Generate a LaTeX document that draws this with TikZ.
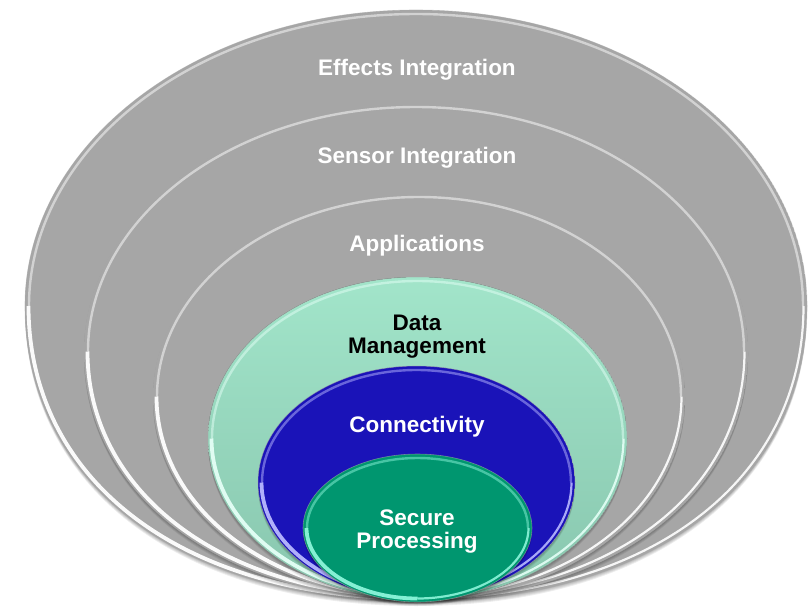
\documentclass[tikz,border=0pt]{standalone}
\usepackage{fontspec}
\setmainfont{Liberation Sans}

% Egg-like closed curve: centre (#1,#2), half-width #3, half-height #4,
% #5 = bezier factor of the two lower quarters (0.5523 = true ellipse)
\newcommand\blob[5]{%
  ({(#1)-(#3)},{#2})
  .. controls ({(#1)-(#3)},{(#2)-0.5523*(#4)}) and ({(#1)-0.5523*(#3)},{(#2)-(#4)}) .. ({#1},{(#2)-(#4)})
  .. controls ({(#1)+0.5523*(#3)},{(#2)-(#4)}) and ({(#1)+(#3)},{(#2)-0.5523*(#4)}) .. ({(#1)+(#3)},{#2})
  .. controls ({(#1)+(#3)},{(#2)+(#5)*(#4)}) and ({(#1)+(#5)*(#3)},{(#2)+(#4)}) .. ({#1},{(#2)+(#4)})
  .. controls ({(#1)-(#5)*(#3)},{(#2)+(#4)}) and ({(#1)-(#3)},{(#2)+(#5)*(#4)}) .. ({(#1)-(#3)},{#2})
  -- cycle}
% parts of the same curve
\newcommand\segBL[5]{({#1},{(#2)+(#4)})
  .. controls ({(#1)-(#5)*(#3)},{(#2)+(#4)}) and ({(#1)-(#3)},{(#2)+(#5)*(#4)}) .. ({(#1)-(#3)},{#2})}
\newcommand\segBR[5]{({(#1)+(#3)},{#2})
  .. controls ({(#1)+(#3)},{(#2)+(#5)*(#4)}) and ({(#1)+(#5)*(#3)},{(#2)+(#4)}) .. ({#1},{(#2)+(#4)})}
\newcommand\segTop[5]{({(#1)-(#3)},{#2})
  .. controls ({(#1)-(#3)},{(#2)-0.5523*(#4)}) and ({(#1)-0.5523*(#3)},{(#2)-(#4)}) .. ({#1},{(#2)-(#4)})
  .. controls ({(#1)+0.5523*(#3)},{(#2)-(#4)}) and ({(#1)+(#3)},{(#2)-0.5523*(#4)}) .. ({(#1)+(#3)},{#2})}

% one bevelled layer: geometry #1-#5, fill style #6, highlight colour #7
\newcommand\layer[7]{%
  \foreach \s in {1,...,4}{\fill[black,opacity=.07,yshift=-\s pt] \blob{#1}{#2}{#3}{#4}{#5};}
  \begin{scope}
    \clip \blob{#1}{#2}{#3}{#4}{#5};
    \fill[#6] \blob{#1}{#2}{#3}{#4}{#5};
    \draw[#7,line width=2.4,opacity=.5] \segTop{#1}{#2}{#3-4}{#4-4}{#5};
    \draw[#7,line width=3.8,opacity=.95] \segBL{#1}{#2}{#3-3.5}{#4-3.5}{#5};
    \draw[#7,line width=2.2,opacity=.9] \segBR{#1}{#2}{#3-3.5}{#4-3.5}{#5};
  \end{scope}
  \draw[black!35,line width=.6,opacity=.6] \blob{#1}{#2}{#3}{#4}{#5};
}

\definecolor{greyfill}{HTML}{A6A6A6}
\definecolor{mintA}{HTML}{A2E5CA}
\definecolor{mintB}{HTML}{88C6AE}
\definecolor{deepblue}{HTML}{1A13B8}
\definecolor{tealfill}{HTML}{00966F}
\definecolor{mintglow}{HTML}{E4FFF6}
\definecolor{blueglow}{HTML}{B8B8FF}
\definecolor{tealglow}{HTML}{8CF5DA}

\tikzset{
  lbl/.style={font=\bfseries\fontsize{22.5}{23.3}\selectfont,text=white,
    anchor=base,inner sep=0pt,align=center},
  darklbl/.style={lbl,text=black}
}

\begin{document}
\begin{tikzpicture}[x=1pt,y=-1pt]
  \useasboundingbox (0,0) rectangle (809,608);
  \fill[white] (0,0) rectangle (809,608);

  % grey rings, outermost first
  \layer{416}{306}{391}{296}{0.6}{greyfill}{white}
  \layer{416}{351.5}{332}{248.5}{0.58}{greyfill}{white}
  \layer{419}{396.5}{266}{203.5}{0.56}{greyfill}{white}
  % coloured core layers
  \layer{417.5}{438.5}{209.5}{161.5}{0.55}{top color=mintA,bottom color=mintB}{mintglow}
  \layer{416.5}{482.5}{158.5}{116.5}{0.55}{deepblue}{blueglow}
  \layer{417.5}{528}{114.5}{74}{0.55}{tealfill}{tealglow}

  % labels (two-line labels sit on the baseline of their last line)
  \node[lbl] (effects) at (417,75) {Effects Integration};
  \node[lbl] (sensor) at (417,163) {Sensor Integration};
  \node[lbl] (apps) at (417,251.5) {Applications};
  \node[darklbl] (data) at (417,353.3) {Data\\Management};
  \node[lbl] (conn) at (417,432.5) {Connectivity};
  \node[lbl] (secure) at (417,548.3) {Secure\\Processing};
\end{tikzpicture}
\end{document}
